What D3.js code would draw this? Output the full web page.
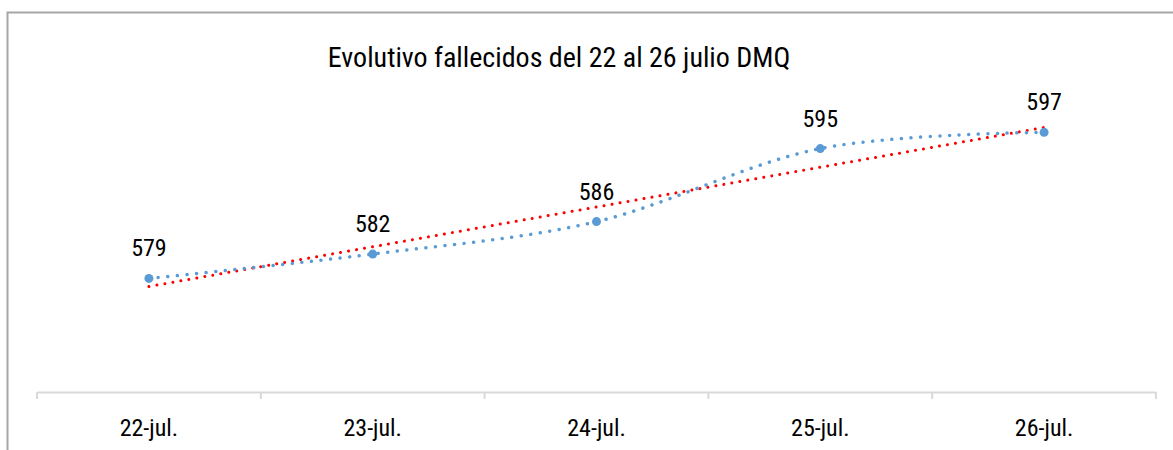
<!DOCTYPE html>
<html lang="es">
<head>
<meta charset="UTF-8">
<script src="https://d3js.org/d3.v7.min.js"></script>
<title>Evolutivo fallecidos</title>
<style>
  body { margin: 0; background: #fff; }
  text { font-family: "Roboto Condensed", "Liberation Sans Narrow", "Arial Narrow", sans-serif; fill: #000; }
</style>
</head>
<body>
<div id="chart"></div>
<script>
const categories = ["22-jul.", "23-jul.", "24-jul.", "25-jul.", "26-jul."];
const values = [579, 582, 586, 595, 597];
const yDomain = [565, 600];
const title = "Evolutivo fallecidos del 22 al 26 julio DMQ";

const W = 1173, H = 450;
const svg = d3.select("#chart").append("svg")
  .attr("width", W).attr("height", H);

// chart border (cropped on right and bottom)
svg.append("rect")
  .attr("x", 7.5).attr("y", 12.5)
  .attr("width", 1200).attr("height", 500)
  .attr("fill", "none").attr("stroke", "#a6a6a6").attr("stroke-width", 2);

svg.append("text")
  .attr("x", 559).attr("y", 67)
  .attr("text-anchor", "middle")
  .attr("font-size", 28)
  .text(title);

const x = d3.scaleBand().domain(categories).range([37, 1156]);
const y = d3.scaleLinear().domain(yDomain).range([392, 108]);
const cx = d => x(d) + x.bandwidth() / 2;

// category axis
const axis = svg.append("g").attr("transform", "translate(0,392)")
  .call(d3.axisBottom(x).tickSize(0).tickPadding(27));
axis.select(".domain").attr("stroke", "#d9d9d9").attr("stroke-width", 2);
axis.selectAll("text").attr("font-size", 24).attr("fill", "#000")
  .style("font-family", "'Roboto Condensed', 'Liberation Sans Narrow', 'Arial Narrow', sans-serif");
const edges = categories.map(d => x(d)).concat([x.range()[1]]);
axis.selectAll(".edge").data(edges).enter().append("line")
  .attr("x1", d => d).attr("x2", d => d)
  .attr("y1", 0).attr("y2", 7)
  .attr("stroke", "#d9d9d9").attr("stroke-width", 2);

const pts = categories.map((c, i) => ({ c, v: values[i], i }));

// linear trendline (least squares on the series)
const n = values.length;
const mx = d3.mean(pts, p => p.i), my = d3.mean(values);
const slope = d3.sum(pts, p => (p.i - mx) * (p.v - my)) / d3.sum(pts, p => (p.i - mx) ** 2);
const trend = [0, n - 1].map(i => ({ c: categories[i], v: my + slope * (i - mx) }));

svg.append("path")
  .datum(trend)
  .attr("d", d3.line().x(d => cx(d.c)).y(d => y(d.v)))
  .attr("fill", "none").attr("stroke", "#ff0000").attr("stroke-width", 3)
  .attr("stroke-linecap", "round").attr("stroke-dasharray", "0.01 8.1");

svg.append("path")
  .datum(pts)
  .attr("d", d3.line().x(d => cx(d.c)).y(d => y(d.v)).curve(d3.curveCatmullRom.alpha(0)))
  .attr("fill", "none").attr("stroke", "#5b9bd5").attr("stroke-width", 3.5)
  .attr("stroke-linecap", "round").attr("stroke-dasharray", "0.01 9.6");

svg.selectAll(".dot").data(pts).enter().append("circle")
  .attr("cx", d => cx(d.c)).attr("cy", d => y(d.v)).attr("r", 4.5)
  .attr("fill", "#5b9bd5");

svg.selectAll(".lbl").data(pts).enter().append("text")
  .attr("x", d => cx(d.c)).attr("y", d => y(d.v) - 22)
  .attr("text-anchor", "middle").attr("font-size", 24)
  .text(d => d.v);
</script>
</body>
</html>
